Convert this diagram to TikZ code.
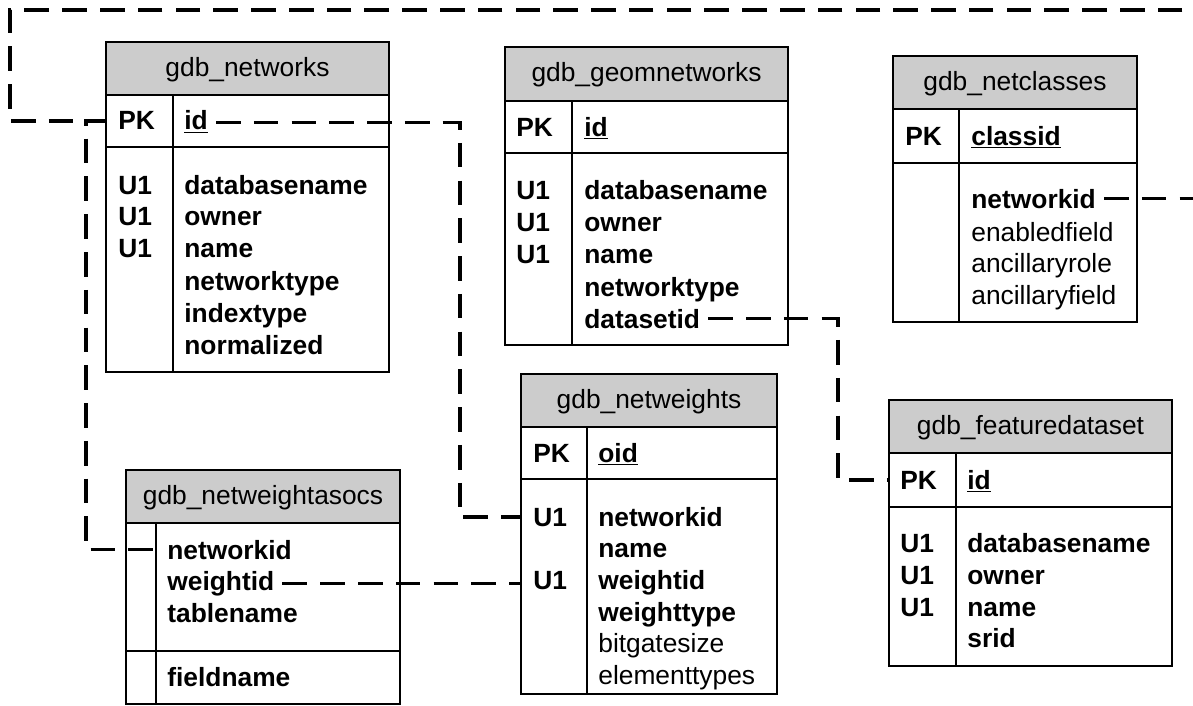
\documentclass[tikz,border=0pt]{standalone}
\usepackage{fontspec}
\setmainfont{Liberation Sans}
\usetikzlibrary{calc}
\definecolor{hdrgray}{RGB}{204,204,204}
\newcommand{\erfont}{\fontsize{15pt}{18pt}\selectfont}
\tikzset{
  tbl/.style={draw, line width=1.1pt},
  hdr/.style={tbl, fill=hdrgray},
  title/.style={anchor=base, inner sep=0pt, font=\erfont},
  key/.style={anchor=base west, inner sep=0pt, font=\erfont\bfseries},
  fld/.style={anchor=base west, inner sep=0pt, font=\erfont\bfseries},
  attr/.style={anchor=base west, inner sep=0pt, font=\erfont},
  fk/.style={line width=1.9pt, dash pattern=on 14pt off 7.5pt},
  fkfrom/.style={fk, shorten <=4.5pt}
}
\begin{document}
\begin{tikzpicture}[x=0.02cm, y=-0.02cm]
  \useasboundingbox (0,0) rectangle (1193,706);

  % gdb_networks
  \coordinate (nw-nw) at (106,42);
  \draw[hdr] (106,42) rectangle (389,95);
  \draw[tbl] (106,95) rectangle (389,372);
  \draw[tbl] (106,147) -- (389,147);
  \draw[tbl] (173,95) -- (173,372);
  \node[title] (nw-title) at (247.5,76.5) {gdb\_networks};
  \node[key] (nw-pk) at (118,130) {PK};
  \node[fld] (nw-id) at (184,130) {\underline{id}};
  \node[key] (nw-u1a) at (118,194) {U1};
  \node[key] (nw-u1b) at (118,225) {U1};
  \node[key] (nw-u1c) at (118,257) {U1};
  \node[fld] (nw-dbname) at (184,194) {databasename};
  \node[fld] (nw-owner) at (184,225) {owner};
  \node[fld] (nw-name) at (184,257) {name};
  \node[fld] (nw-nettype) at (184,290) {networktype};
  \node[fld] (nw-idxtype) at (184,322) {indextype};
  \node[fld] (nw-norm) at (184,354) {normalized};

  % gdb_geomnetworks
  \draw[hdr] (505,47) rectangle (788,101);
  \draw[tbl] (505,101) rectangle (788,345);
  \draw[tbl] (505,153) -- (788,153);
  \draw[tbl] (572,101) -- (572,345);
  \node[title] (gn-title) at (646.5,82) {gdb\_geomnetworks};
  \node[key] (gn-pk) at (516,136) {PK};
  \node[fld] (gn-id) at (584,136) {\underline{id}};
  \node[key] (gn-u1a) at (516,199) {U1};
  \node[key] (gn-u1b) at (516,231) {U1};
  \node[key] (gn-u1c) at (516,263) {U1};
  \node[fld] (gn-dbname) at (584,199) {databasename};
  \node[fld] (gn-owner) at (584,231) {owner};
  \node[fld] (gn-name) at (584,263) {name};
  \node[fld] (gn-nettype) at (584,296) {networktype};
  \node[fld] (gn-dsid) at (584,328) {datasetid};

  % gdb_netclasses
  \draw[hdr] (893,56) rectangle (1137,109);
  \draw[tbl] (893,109) rectangle (1137,322);
  \draw[tbl] (893,163) -- (1137,163);
  \draw[tbl] (959,109) -- (959,322);
  \node[title] (nc-title) at (1015,90.5) {gdb\_netclasses};
  \node[key] (nc-pk) at (905,145) {PK};
  \node[fld] (nc-classid) at (971,145) {\underline{classid}};
  \node[fld] (nc-netid) at (971,208) {networkid};
  \node[attr] (nc-enabled) at (971,241) {enabledfield};
  \node[attr] (nc-ancrole) at (971,272) {ancillaryrole};
  \node[attr] (nc-ancfield) at (971,304) {ancillaryfield};

  % gdb_featuredataset
  \coordinate (fd-nw) at (889,400);
  \draw[hdr] (889,400) rectangle (1172,453);
  \draw[tbl] (889,453) rectangle (1172,666);
  \draw[tbl] (889,507) -- (1172,507);
  \draw[tbl] (956,453) -- (956,666);
  \node[title] (fd-title) at (1030.5,434.5) {gdb\_featuredataset};
  \node[key] (fd-pk) at (900,489) {PK};
  \node[fld] (fd-id) at (967,489) {\underline{id}};
  \node[key] (fd-u1a) at (900,552) {U1};
  \node[key] (fd-u1b) at (900,584) {U1};
  \node[key] (fd-u1c) at (900,616) {U1};
  \node[fld] (fd-dbname) at (967,552) {databasename};
  \node[fld] (fd-owner) at (967,584) {owner};
  \node[fld] (fd-name) at (967,616) {name};
  \node[fld] (fd-srid) at (967,647) {srid};

  % gdb_netweights
  \coordinate (wt-nw) at (521,374);
  \draw[hdr] (521,374) rectangle (777,427);
  \draw[tbl] (521,427) rectangle (777,694);
  \draw[tbl] (521,479) -- (777,479);
  \draw[tbl] (587,427) -- (587,694);
  \node[title] (wt-title) at (649,408.5) {gdb\_netweights};
  \node[key] (wt-pk) at (533,462) {PK};
  \node[fld] (wt-oid) at (598,462) {\underline{oid}};
  \node[key] (wt-u1a) at (533,526) {U1};
  \node[key] (wt-u1b) at (533,589) {U1};
  \node[fld] (wt-netid) at (598,526) {networkid};
  \node[fld] (wt-name) at (598,557) {name};
  \node[fld] (wt-wid) at (598,589) {weightid};
  \node[fld] (wt-wtype) at (598,621) {weighttype};
  \node[attr] (wt-bgsize) at (598,652) {bitgatesize};
  \node[attr] (wt-eltypes) at (598,684) {elementtypes};

  % gdb_netweightasocs
  \coordinate (wa-div) at (156,470);
  \draw[hdr] (126,470) rectangle (400,523);
  \draw[tbl] (126,523) rectangle (400,704);
  \draw[tbl] (126,651) -- (400,651);
  \draw[tbl] (156,523) -- (156,704);
  \node[title] (wa-title) at (263,504.5) {gdb\_netweightasocs};
  \node[fld] (wa-netid) at (167,559) {networkid};
  \node[fld] (wa-wid) at (167,590) {weightid};
  \node[fld] (wa-tname) at (167,622) {tablename};
  \node[fld] (wa-fname) at (167,686) {fieldname};

  % connectors
  \coordinate (loop-ne) at (1200,10);
  \coordinate (loop-nw) at (10,10);
  \coordinate (jog-id) at (460,0);
  \coordinate (jog-ds) at (838,0);
  \draw[fkfrom] (nc-netid.east) -| (loop-ne) -- (loop-nw) |- (nw-pk -| nw-nw);
  \draw[fk] (nw-pk -| nw-nw) -- ++(-20,0) |- (wa-netid -| wa-div);
  \draw[fkfrom] (nw-id.east) -| (jog-id |- wt-u1a) -- (wt-u1a -| wt-nw);
  \draw[fkfrom] (wa-wid.east) -- (wa-wid.east -| wt-nw);
  \draw[fkfrom] (gn-dsid.east) -| (jog-ds |- fd-pk) -- (fd-pk -| fd-nw);
\end{tikzpicture}
\end{document}
